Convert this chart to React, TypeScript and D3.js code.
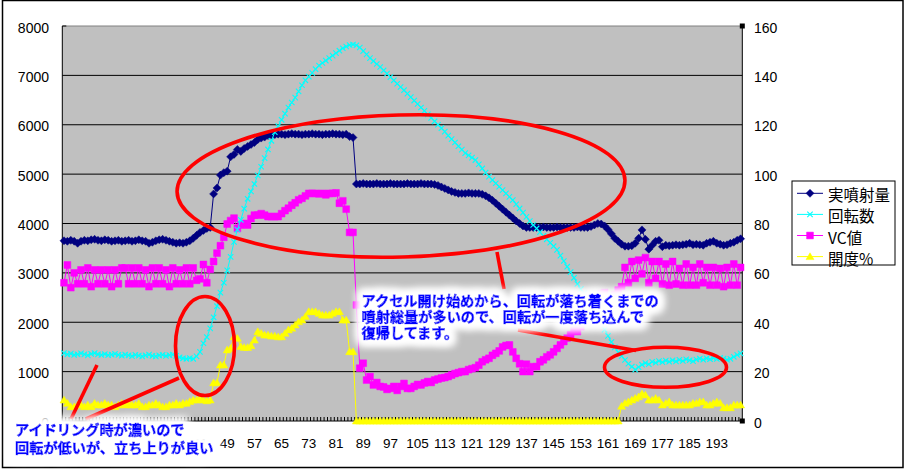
import React from 'react';
import * as d3 from 'd3';

// ---- data ----
const categories: number[] = Array.from({ length: 200 }, (_, i) => i + 1);
const xTickLabels: number[] = [1, 9, 17, 25, 33, 41, 49, 57, 65, 73, 81, 89, 97, 105, 113, 121, 129, 137, 145, 153, 161, 169, 177, 185, 193];
const leftTicks: number[] = [0, 1000, 2000, 3000, 4000, 5000, 6000, 7000, 8000];
const rightTicks: number[] = [0, 20, 40, 60, 80, 100, 120, 140, 160];
const seriesNames: string[] = ['実噴射量', '回転数', 'VC値', '開度%'];

// 実噴射量 (left axis)
const injection: number[] = [
  3650, 3640, 3660, 3640, 3600, 3640, 3660, 3650, 3670, 3680,
  3660, 3650, 3670, 3660, 3640, 3650, 3660, 3640, 3650, 3660,
  3640, 3650, 3670, 3650, 3640, 3600, 3620, 3650, 3670, 3680,
  3660, 3640, 3620, 3600, 3610, 3600, 3620, 3650, 3700, 3760,
  3820, 3860, 3900, 3920, 4600, 4720, 4980, 5030, 5060, 5350,
  5400, 5500, 5460, 5520, 5560, 5600, 5640, 5700, 5730, 5750,
  5780, 5790, 5800, 5810, 5810, 5800, 5810, 5820, 5810, 5810,
  5800, 5810, 5810, 5820, 5810, 5810, 5800, 5810, 5810, 5820,
  5810, 5810, 5800, 5810, 5760, 5740, 4800, 4800, 4810, 4800,
  4800, 4800, 4810, 4800, 4800, 4800, 4810, 4800, 4800, 4800,
  4800, 4810, 4800, 4800, 4800, 4810, 4800, 4800, 4800, 4790,
  4770, 4740, 4710, 4680, 4650, 4630, 4610, 4610, 4610, 4620,
  4610, 4610, 4610, 4590, 4560, 4520, 4470, 4410, 4350, 4290,
  4230, 4170, 4110, 4050, 4000, 3950, 3920, 3920, 3920, 3920,
  3920, 3930, 3920, 3920, 3920, 3930, 3920, 3920, 3920, 3920,
  3920, 3930, 3920, 3920, 3920, 3940, 3970, 4000, 3990, 3950,
  3880, 3790, 3700, 3640, 3580, 3540, 3540, 3550, 3600, 3700,
  3870, 3680, 3480, 3560, 3640, 3660, 3530, 3560, 3550, 3560,
  3570, 3560, 3570, 3580, 3600, 3570, 3580, 3570, 3560, 3600,
  3620, 3640, 3600, 3580, 3560, 3570, 3600, 3620, 3660, 3690,
];

// 回転数 (right axis)
const rpm: number[] = [
  27.5, 27, 27.3, 26.8, 27, 27.4, 27, 26.6, 27.2, 27.5,
  27, 26.8, 27.1, 26.7, 26.9, 27.2, 26.8, 26.5, 26.9, 26.6,
  26.3, 26.8, 26.5, 26.2, 26.6, 26.9, 26.4, 26.2, 26.6, 26.8,
  26.4, 26.7, 26.9, 26.4, 25.8, 25.4, 25.2, 25.5, 25.2, 26.2,
  28, 31.5, 34, 37.5, 42, 46.5, 52, 56, 61, 66.5,
  72.5, 77.5, 81.5, 86, 90, 93, 96, 99.5, 103, 106.5,
  110, 113.5, 117, 119.5, 122, 124.5, 127, 129, 131, 133.5,
  136, 138, 139.5, 141, 142.5, 144, 145, 146, 147, 148,
  149, 150, 151, 151.7, 152.3, 152.5, 152.2, 151.3, 149.8, 148.5,
  147, 145.8, 144.6, 143.4, 142, 140.7, 139.3, 138, 136.6, 135.3,
  134, 132.6, 131.2, 129.8, 128.4, 127, 125.6, 124.2, 122.8, 121.4,
  120, 118.6, 117.2, 115.6, 114.2, 112.8, 111.3, 109.9, 108.5, 107.6,
  106.7, 105.7, 104, 102.3, 100.6, 99, 97.6, 96.3, 94.9, 93.5,
  92.2, 90.8, 89.5, 87.8, 86.1, 84.4, 82.7, 81, 79.4, 78,
  76.5, 75, 73.6, 72.2, 70.8, 69.3, 67, 64.8, 62.5, 60.3,
  58, 55.5, 53.4, 51.8, 50.3, 47.5, 44.8, 42, 39.4, 37,
  34.5, 32, 29.8, 27.8, 26.3, 24.7, 23.2, 22, 20.8, 21.8,
  22.8, 23.5, 23, 24, 23.6, 24.3, 23.8, 24.5, 24, 24.6,
  24.1, 24.8, 24.3, 25, 24.6, 24.2, 24.9, 25.3, 24.8, 25.4,
  25, 25.5, 25.1, 25.6, 25.3, 24.8, 25.2, 26, 26.8, 27.4,
];

// VC値 (left axis)
const vc: number[] = [
  2800, 3160, 2700, 3000, 2780, 3060, 2780, 3100, 2720, 3060,
  2780, 3060, 2780, 3060, 2720, 3060, 2780, 3100, 3100, 2780,
  3100, 2780, 3100, 2780, 3060, 2720, 3100, 2780, 3100, 2780,
  3060, 2720, 3100, 2780, 3060, 2780, 3100, 2780, 3100, 2850,
  2880, 3170, 2800, 3070, 3230, 3400, 3550, 3720, 3990, 4060,
  4110, 3900, 3970, 4000, 3970, 4100, 4170, 4170, 4200, 4170,
  4140, 4140, 4140, 4140, 4200, 4260, 4310, 4370, 4420, 4480,
  4510, 4560, 4610, 4610, 4610, 4600, 4610, 4580, 4610, 4610,
  4620, 4410, 4460, 4290, 3820, 3820, 2350, 1070, 1170, 830,
  900, 730, 780, 700, 690, 640, 660, 700, 620, 700,
  760, 660, 660, 700, 740, 730, 770, 800, 780, 830,
  850, 870, 880, 900, 930, 960, 980, 1000, 1000, 1040,
  1060, 1080, 1130, 1200, 1240, 1270, 1330, 1370, 1420, 1500,
  1530, 1540, 1400, 1270, 1160, 1000, 1150, 1000, 1100, 1100,
  1200, 1240, 1300, 1340, 1400, 1470, 1540, 1610, 1680, 1750,
  1880, 1810, 1910, 2100, 2200, 2300, 2400, 2480, 2580, 2600,
  2500, 2450, 2560, 2650, 2720, 3110, 2800, 3230, 2890, 3260,
  2980, 3310, 2800, 3230, 2890, 3230, 2775, 3180, 2750, 3230,
  2775, 3090, 2750, 3180, 2750, 3110, 2750, 3180, 2800, 3110,
  2750, 3110, 2750, 3090, 2720, 3110, 2750, 3180, 2750, 3110,
];

// 開度% (right axis)
const throttle: number[] = [
  8.5, 7.2, 5.8, 5.8, 6.5, 6.5, 5.8, 6.5, 5.8, 7.2,
  6.5, 6.5, 7.2, 6.5, 6.5, 5.8, 6.5, 7.2, 6.5, 7.2,
  6.5, 6.5, 7.2, 5.8, 5.8, 6.5, 6.5, 7.2, 6.5, 5.8,
  5.8, 6.5, 6.5, 7.2, 6.5, 7.2, 7.2, 7.9, 8.5, 8.5,
  9.2, 8.5, 8.2, 8.5, 15.5, 15.5, 22.7, 22.7, 28.8, 29.4,
  34.1, 33.5, 30.2, 29.8, 29.8, 30.5, 32.8, 36.2, 35.5, 34.8,
  34.8, 34.4, 34.4, 34.1, 34.1, 35.5, 36.9, 37.6, 38.9, 40.2,
  40.9, 42.3, 44.3, 44.3, 44.3, 43.6, 42.9, 42.9, 42.9, 43.6,
  44.3, 44.3, 40.9, 40.9, 28.1, 28.1, 0, 0, 0, 0,
  0, 0, 0, 0, 0, 0, 0, 0, 0, 0,
  0, 0, 0, 0, 0, 0, 0, 0, 0, 0,
  0, 0, 0, 0, 0, 0, 0, 0, 0, 0,
  0, 0, 0, 0, 0, 0, 0, 0, 0, 0,
  0, 0, 0, 0, 0, 0, 0, 0, 0, 0,
  0, 0, 0, 0, 0, 0, 0, 0, 0, 0,
  0, 0, 0, 0, 0, 0, 0, 0, 0, 0,
  0, 0, 0, 0, 6, 7.2, 7.8, 8.5, 9.2, 9.8,
  11, 10.5, 8.5, 8.5, 9.2, 8.5, 6.5, 7.2, 7.8, 6.5,
  6.5, 6.5, 6.5, 6.5, 6.5, 7.2, 7.2, 7.8, 7.8, 6.5,
  6.5, 7.2, 7.8, 7.2, 5.4, 5.4, 5.4, 6.5, 6.5, 6.5,
];

const note1: string[] = ['アイドリング時が濃いので', '回転が低いが、立ち上りが良い'];
const note2: string[] = ['アクセル開け始めから、回転が落ち着くまでの', '噴射総量が多いので、回転が一度落ち込んで', '復帰してます。'];

// ---- layout ----
const W = 905;
const H = 469;
const PL = 62.3, PR = 742.3, PT = 26, PB = 421;
const COLORS = ['#000080', '#00FFFF', '#FF00FF', '#FFFF00'];
const AXIS_FONT = "'Liberation Sans', Arial, sans-serif";
const JP_FONT = "'Noto Sans CJK JP', 'Noto Sans CJK SC', sans-serif";

const xBand = d3.scaleBand<number>().domain(categories).range([PL, PR]).padding(0);
const xc = (c: number) => (xBand(c) as number) + xBand.bandwidth() / 2;
const yL = d3.scaleLinear().domain([0, 8000]).range([PB, PT]);
const yR = d3.scaleLinear().domain([0, 160]).range([PB, PT]);

const diamond = 'M0,-4L4,0L0,4L-4,0Z';
const square = 'M-3.4,-3.4H3.4V3.4H-3.4Z';
const triangle = 'M0,-3.8L4,3L-4,3Z';
const cross = 'M-2.7,-2.7L2.7,2.7M-2.7,2.7L2.7,-2.7';

function Series({ values, scale, color, marker, markerStroke }: { values: number[]; scale: d3.ScaleLinear<number, number>; color: string; marker: string; markerStroke?: boolean }) {
  const line = d3.line<number>().x((_, i) => xc(categories[i])).y((d) => scale(d));
  return (
    <g>
      <path d={line(values) || ''} fill="none" stroke={color} strokeWidth={1} />
      {values.map((v, i) => (
        <path
          key={i}
          d={marker}
          transform={`translate(${xc(categories[i])},${scale(v)})`}
          fill={markerStroke ? 'none' : color}
          stroke={color}
          strokeWidth={markerStroke ? 1.1 : 0.5}
        />
      ))}
    </g>
  );
}

export default function App() {
  const markers = [diamond, cross, square, triangle];
  const legendX = 792, legendY = 181, legendW = 103, legendH = 84;
  return (
    <svg width={W} height={H} style={{ position: 'absolute', left: 0, top: 0, display: 'block' }}>
      <defs>
        <filter id="glow" x="-15%" y="-50%" width="130%" height="200%">
          <feMorphology in="SourceAlpha" operator="dilate" radius="3.5" result="dil" />
          <feGaussianBlur in="dil" stdDeviation="4" result="blur" />
          <feFlood floodColor="#ffffff" result="white" />
          <feComposite in="white" in2="blur" operator="in" result="glow" />
          <feMerge>
            <feMergeNode in="glow" />
            <feMergeNode in="glow" />
            <feMergeNode in="glow" />
            <feMergeNode in="SourceGraphic" />
          </feMerge>
        </filter>
        <clipPath id="plotClip">
          <rect x={PL - 5} y={PT - 5} width={PR - PL + 10} height={PB - PT + 10} />
        </clipPath>
      </defs>
      <rect x={0} y={0} width={W} height={H} fill="#ffffff" />
      <rect x={2.5} y={0.5} width={900.5} height={467} fill="none" stroke="#000" strokeWidth={1.5} />

      {/* plot area */}
      <rect x={PL} y={PT} width={PR - PL} height={PB - PT} fill="#C0C0C0" />
      {leftTicks.filter((t) => t > 0 && t < 8000).map((t) => (
        <line key={t} x1={PL} x2={PR} y1={yL(t)} y2={yL(t)} stroke="#000" strokeWidth={1} />
      ))}
      <line x1={PL} x2={PR} y1={PT} y2={PT} stroke="#808080" strokeWidth={1} />
      <line x1={PL} x2={PL} y1={PT} y2={PB} stroke="#000" strokeWidth={1} />
      <line x1={PR} x2={PR} y1={PT} y2={PB} stroke="#000" strokeWidth={1} />
      <line x1={PL} x2={PL + 4} y1={PT} y2={PT} stroke="#000" strokeWidth={1} />
      {/* x ticks */}
      {categories.map((c) => (
        <line key={c} x1={xBand(c) as number} x2={xBand(c) as number} y1={PB - 4} y2={PB} stroke="#000" strokeWidth={1} />
      ))}
      <line x1={PL} x2={PR} y1={PB} y2={PB} stroke="#000" strokeWidth={1} />
      <rect x={PR - 2.5} y={PT - 2.5} width={5} height={5} fill="#000" />
      <rect x={PR - 2.5} y={PB - 2.5} width={5} height={5} fill="#000" />

      {/* series */}
      <g clipPath="url(#plotClip)">
        <Series values={injection} scale={yL} color={COLORS[0]} marker={diamond} />
        <Series values={vc} scale={yL} color={COLORS[2]} marker={square} />
        <Series values={rpm} scale={yR} color={COLORS[1]} marker={cross} markerStroke />
        <Series values={throttle} scale={yR} color={COLORS[3]} marker={triangle} />
      </g>

      {/* axis labels */}
      {leftTicks.map((t) => (
        <text key={t} x={49} y={yL(t) + 1.5} textAnchor="end" dominantBaseline="central" fontFamily={AXIS_FONT} fontSize={14} fill="#000">{t}</text>
      ))}
      {rightTicks.map((t) => (
        <text key={t} x={754} y={yR(t) + 1.5} textAnchor="start" dominantBaseline="central" fontFamily={AXIS_FONT} fontSize={14} fill="#000">{t}</text>
      ))}
      {xTickLabels.map((c) => (
        <text key={c} x={xc(c)} y={443} textAnchor="middle" dominantBaseline="central" fontFamily={AXIS_FONT} fontSize={13.5} fill="#000">{c}</text>
      ))}

      {/* red annotations */}
      <g fill="none" stroke="#FF0000" strokeWidth={3.6}>
        <ellipse cx={401} cy={186} rx={224} ry={71} transform="rotate(-1.5 401 186)" />
        <ellipse cx={205} cy={346} rx={29.5} ry={49.5} />
        <ellipse cx={665.5} cy={367.3} rx={61} ry={20} />
        <line x1={497} y1={252} x2={504} y2={289} />
        <line x1={518} y1={330} x2={636} y2={350.5} />
        <line x1={97} y1={365} x2={71} y2={419} />
        <line x1={179} y1={378} x2={86} y2={419} />
      </g>

      {/* notes */}
      <g filter="url(#glow)" fontFamily={JP_FONT} fontWeight="bold" fontSize={14.2} fill="#0000FF" stroke="#0000FF" strokeWidth={0.7}>
        {note2.map((s, i) => (
          <text key={i} x={361.5} y={300 + i * 16} dominantBaseline="central">{s}</text>
        ))}
      </g>
      <g filter="url(#glow)" fontFamily={JP_FONT} fontWeight="bold" fontSize={14.2} fill="#0000FF" stroke="#0000FF" strokeWidth={0.7}>
        {note1.map((s, i) => (
          <text key={i} x={15} y={429 + i * 17.5} dominantBaseline="central">{s}</text>
        ))}
      </g>

      {/* legend */}
      <rect x={legendX} y={legendY} width={legendW} height={legendH} fill="#fff" stroke="#000" strokeWidth={1} />
      {seriesNames.map((name, i) => {
        const cy = 193.3 + i * 21.1;
        return (
          <g key={name}>
            <line x1={797} x2={823} y1={cy} y2={cy} stroke={COLORS[i]} strokeWidth={1} />
            <path d={markers[i]} transform={`translate(810,${cy})`} fill={i === 1 ? 'none' : COLORS[i]} stroke={COLORS[i]} strokeWidth={i === 1 ? 1.1 : 0.5} />
            <text x={828} y={cy + 1} dominantBaseline="central" fontFamily={JP_FONT} fontSize={15.5} fill="#000">{name}</text>
          </g>
        );
      })}
    </svg>
  );
}
